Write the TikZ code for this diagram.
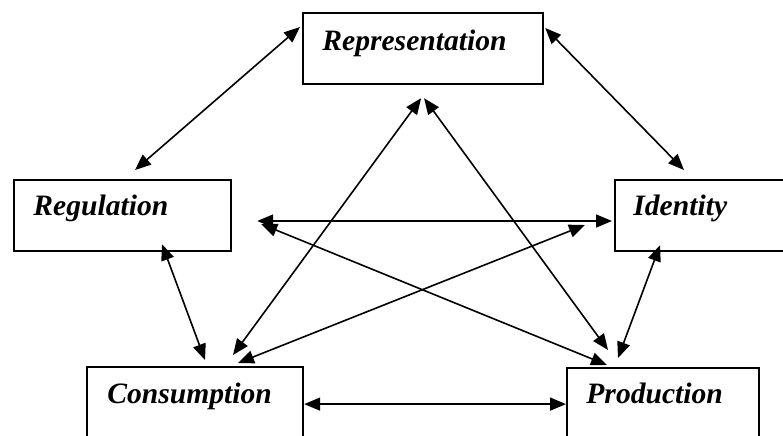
\documentclass[tikz,border=0pt]{standalone}
\usepackage{fontspec}
\setmainfont{Liberation Serif}
\usetikzlibrary{arrows.meta,calc}

\begin{document}
\begin{tikzpicture}[x=0.5pt,y=-0.5pt,
    >={Triangle[length=8pt,width=6.5pt]},
    box/.style={draw,line width=1.1pt,anchor=north west,inner sep=0pt,minimum height=35.5pt},
    label/.style={anchor=base west,inner sep=0pt,font=\fontsize{14.8}{17}\selectfont\bfseries\itshape},
    link/.style={<->,line width=0.8pt}]
    \clip (0,0) rectangle (783,435);
    % boxes
    \node[box,minimum width=120pt] (rep) at (302,12) {};
    \node[box,minimum width=108.5pt] (reg) at (13,179) {};
    \node[box,minimum width=90pt] (ide) at (614,179) {};
    \node[box,minimum width=108pt,minimum height=37pt] (con) at (86,366) {};
    \node[box,minimum width=96pt,minimum height=36pt] (pro) at (566,367) {};
    % texts
    \node[label] (rept) at (322,50) {Representation};
    \node[label] (regt) at (33,215) {Regulation};
    \node[label] (idet) at (633,215) {Identity};
    \node[label] (cont) at (107,403) {Consumption};
    \node[label] (prot) at (586,403) {Production};
    % links
    \draw[link] ($(rep.north west)+(-2,15)$) -- ($(reg.north west)+(122,-9)$);
    \draw[link] ($(rep.north east)+(1,16)$) -- ($(ide.north west)+(70,-9)$);
    \draw[link] ($(rep.south)+(-2,13)$) -- ($(con.north west)+(147,-11)$);
    \draw[link] ($(rep.south)+(1,13)$) -- ($(pro.north west)+(42,-17)$);
    \draw[link] ($(reg.north east)+(25,42)$) -- ($(ide.north west)+(-2,42)$);
    \draw[link] ($(reg.north east)+(29,45)$) -- ($(pro.north west)+(41,-2)$);
    \draw[link] ($(reg.south west)+(149,-8)$) -- ($(con.north west)+(119,-6)$);
    \draw[link] ($(ide.north west)+(-29,46)$) -- ($(con.north west)+(152,-3)$);
    \draw[link] ($(ide.south west)+(46,-7)$) -- ($(pro.north west)+(52,-9)$);
    \draw[link] (con.east) -- (pro.west);
\end{tikzpicture}
\end{document}
